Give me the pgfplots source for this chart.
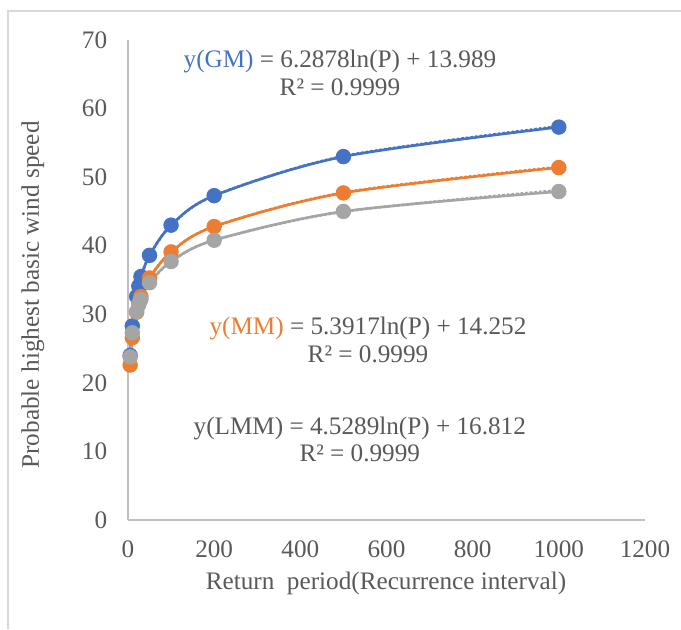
\documentclass[border=0pt]{standalone}
\usepackage{fontspec}
\setmainfont{Liberation Serif}
\usepackage{pgfplots}
\pgfplotsset{compat=1.18}
\definecolor{cgm}{HTML}{4472C4}
\definecolor{cmm}{HTML}{ED7D31}
\definecolor{clmm}{HTML}{A5A5A5}
\definecolor{ctxt}{HTML}{595959}
\definecolor{caxis}{HTML}{BFBFBF}
\definecolor{cframe}{HTML}{D9D9D9}
\begin{document}
\fontsize{12.6}{13.6}\selectfont
\begin{tikzpicture}
\path[use as bounding box] (-64pt,-54.5pt) rectangle (276.5pt,260pt);
\draw[cframe, line width=1pt] (-60pt,-54.5pt) -- (-60pt,254.5pt) -- (276.5pt,254.5pt);
\begin{axis}[
  scale only axis, width=258.5pt, height=240pt,
  xmin=0, xmax=1200, ymin=0, ymax=70,
  xtick={0,200,...,1200}, ytick={0,10,...,70},
  axis lines=left, axis line style={caxis, line width=0.8pt, -},
  major tick length=0pt,
  tick label style={font=\fontsize{12.6}{13.6}\selectfont, text=ctxt},
  /pgf/number format/assume math mode=true,
  /pgf/number format/1000 sep={},
  yticklabel style={xshift=-6pt},
  xticklabel style={yshift=-6pt},
  xlabel={Return~~period(Recurrence interval)},
  ylabel={Probable highest basic wind speed},
  label style={font=\fontsize{12.6}{13.6}\selectfont, text=ctxt},
  xlabel style={at={(axis description cs:0.499,-0.133)}, anchor=center},
  ylabel style={at={(axis description cs:-0.184,0.469)}, anchor=center},
  clip=false,
]
% trendlines (dotted)
\addplot[cgm, densely dotted, line width=1.3pt, smooth] coordinates {(5,24.11)(10,28.47)(20,32.83)(25,34.23)(30,35.37)(50,38.59)(100,42.95)(200,47.30)(500,53.06)(1000,57.42)};
\addplot[cmm, densely dotted, line width=1.3pt, smooth] coordinates {(5,22.93)(10,26.67)(20,30.40)(25,31.61)(30,32.59)(50,35.34)(100,39.08)(200,42.82)(500,47.76)(1000,51.50)};
\addplot[clmm, densely dotted, line width=1.3pt, smooth] coordinates {(5,24.10)(10,27.24)(20,30.38)(25,31.39)(30,32.22)(50,34.53)(100,37.67)(200,40.81)(500,44.96)(1000,48.10)};
% series
\addplot[cgm, line width=1.3pt, smooth, mark=*, mark size=3.2pt, mark options={fill=cgm, draw=cgm}] coordinates {(5,24.0)(10,28.3)(20,32.6)(25,34.1)(30,35.5)(50,38.6)(100,43.0)(200,47.3)(500,53.0)(1000,57.3)};
\addplot[cmm, line width=1.3pt, smooth, mark=*, mark size=3.2pt, mark options={fill=cmm, draw=cmm}] coordinates {(5,22.6)(10,26.6)(20,30.3)(25,31.6)(30,32.6)(50,35.3)(100,39.1)(200,42.8)(500,47.7)(1000,51.4)};
\addplot[clmm, line width=1.3pt, smooth, mark=*, mark size=3.2pt, mark options={fill=clmm, draw=clmm}] coordinates {(5,23.8)(10,27.3)(20,30.4)(25,31.4)(30,32.2)(50,34.6)(100,37.7)(200,40.8)(500,45.0)(1000,47.9)};
% equations
\node[align=center, text=ctxt, font=\fontsize{12.6}{13.6}\selectfont] at (axis cs:492,65.2) {\textcolor{cgm}{y(GM)} = 6.2878ln(P) + 13.989\\R² = 0.9999};
\node[align=center, text=ctxt, font=\fontsize{12.6}{13.6}\selectfont] at (axis cs:557,26.25) {\textcolor{cmm}{y(MM)} = 5.3917ln(P) + 14.252\\R² = 0.9999};
\node[align=center, text=ctxt, font=\fontsize{12.6}{13.6}\selectfont] at (axis cs:538,11.7) {y(LMM) = 4.5289ln(P) + 16.812\\R² = 0.9999};
\end{axis}
\end{tikzpicture}
\end{document}
